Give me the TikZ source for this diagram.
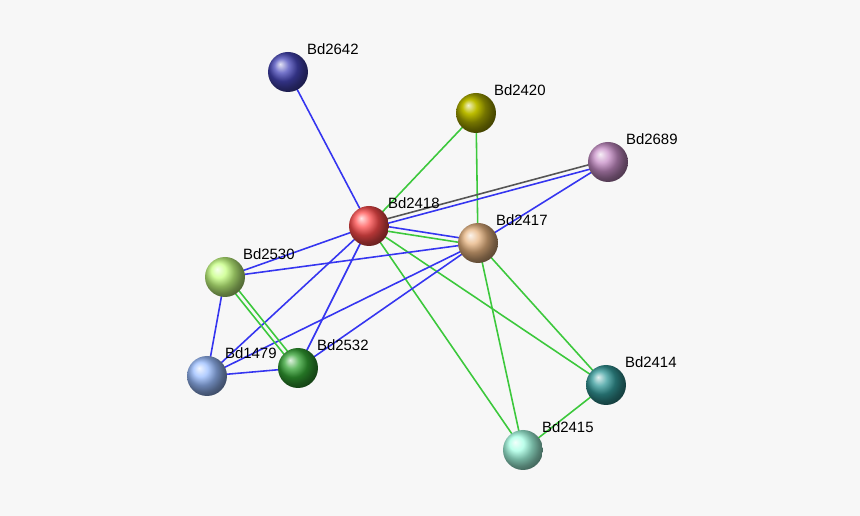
\documentclass[tikz,border=0pt]{standalone}
\usepackage{fontspec}
\setmainfont{Liberation Sans}
\usetikzlibrary{calc}
\definecolor{bg}{HTML}{F7F7F7}
\definecolor{eblue}{HTML}{3535F0}
\definecolor{egreen}{HTML}{3CC83C}
\definecolor{egray}{HTML}{555555}
\tikzset{
  prot/.style={circle, minimum size=0.8cm, inner sep=0pt, shading=ball, ball color=#1},
  lbl/.style={font=\fontsize{8.5}{10}\selectfont, anchor=south west, inner sep=1pt},
  ebl/.style={eblue, line width=0.9pt},
  egr/.style={egreen, line width=0.9pt},
}
% pair of parallel edges
\newcommand{\twoedge}[4]{%
  \draw[#3] ($(#1)!1.3pt!90:(#2)$) -- ($(#2)!1.3pt!-90:(#1)$);
  \draw[#4] ($(#1)!1.3pt!-90:(#2)$) -- ($(#2)!1.3pt!90:(#1)$);}
\begin{document}
\begin{tikzpicture}[x=0.02cm, y=-0.02cm]
  \fill[bg] (0,0) rectangle (860,516);
  \useasboundingbox (0,0) rectangle (860,516);
  % node centres
  \coordinate (c2642) at (288,72);
  \coordinate (c2420) at (476,113);
  \coordinate (c2689) at (608,162);
  \coordinate (c2418) at (369,226);
  \coordinate (c2417) at (478,243);
  \coordinate (c2530) at (225,277);
  \coordinate (c1479) at (207,376);
  \coordinate (c2532) at (298,368);
  \coordinate (c2414) at (606,385);
  \coordinate (c2415) at (523,450);
  % edges
  \draw[ebl] (c2642) -- (c2418);
  \draw[egr] (c2420) -- (c2418);
  \draw[egr] (c2420) -- (c2417);
  \twoedge{c2418}{c2689}{egray, line width=0.9pt}{ebl}
  \draw[ebl] (c2689) -- (c2417);
  \twoedge{c2418}{c2417}{ebl}{egr}
  \draw[ebl] (c2418) -- (c2530);
  \draw[ebl] (c2418) -- (c1479);
  \draw[ebl] (c2418) -- (c2532);
  \draw[egr] (c2418) -- (c2415);
  \draw[egr] (c2418) -- (c2414);
  \draw[ebl] (c2417) -- (c2530);
  \draw[ebl] (c2417) -- (c1479);
  \draw[ebl] (c2417) -- (c2532);
  \draw[egr] (c2417) -- (c2414);
  \draw[egr] (c2417) -- (c2415);
  \twoedge{c2530}{c2532}{egr}{egr}
  \draw[ebl] (c2530) -- (c1479);
  \draw[ebl] (c1479) -- (c2532);
  \draw[egr] (c2414) -- (c2415);
  % proteins
  \node[prot=blue!45!gray] (p2642) at (c2642) {};
  \node[prot=olive!70!yellow] (p2420) at (c2420) {};
  \node[prot=violet!45] (p2689) at (c2689) {};
  \node[prot=red!70] (p2418) at (c2418) {};
  \node[prot=orange!35!brown!60!white] (p2417) at (c2417) {};
  \node[prot=green!45!yellow!50] (p2530) at (c2530) {};
  \node[prot=cyan!35!blue!40] (p1479) at (c1479) {};
  \node[prot=green!55!black!80] (p2532) at (c2532) {};
  \node[prot=teal!80] (p2414) at (c2414) {};
  \node[prot=green!30!cyan!35] (p2415) at (c2415) {};
  % labels
  \node[lbl] (l2642) at (305,57) {Bd2642};
  \node[lbl] (l2420) at (492,98) {Bd2420};
  \node[lbl] (l2689) at (624,147) {Bd2689};
  \node[lbl] (l2418) at (386,211) {Bd2418};
  \node[lbl] (l2417) at (494,228) {Bd2417};
  \node[lbl] (l2530) at (241,262) {Bd2530};
  \node[lbl] (l1479) at (223,361) {Bd1479};
  \node[lbl] (l2532) at (315,353) {Bd2532};
  \node[lbl] (l2414) at (623,370) {Bd2414};
  \node[lbl] (l2415) at (540,435) {Bd2415};
\end{tikzpicture}
\end{document}
